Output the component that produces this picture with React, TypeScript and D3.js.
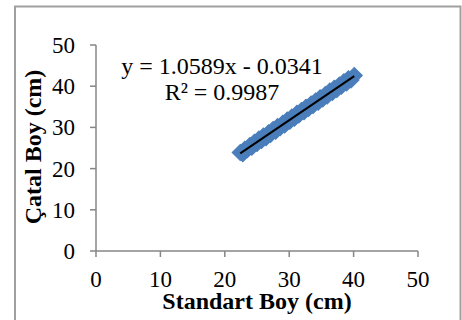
import React from "react";
import * as d3 from "d3";

const standartBoy: number[] = [22.4, 22.8, 23.1, 23.5, 23.9, 24.2, 24.6, 25.0, 25.3, 25.7, 26.0, 26.4, 26.8, 27.1, 27.5, 27.9, 28.2, 28.6, 29.0, 29.3, 29.7, 30.1, 30.4, 30.8, 31.2, 31.5, 31.9, 32.3, 32.6, 33.0, 33.4, 33.7, 34.1, 34.5, 34.8, 35.2, 35.6, 35.9, 36.3, 36.7, 37.0, 37.4, 37.8, 38.1, 38.5, 38.9, 39.2, 39.6, 40.1];
const catalBoy: number[] = [23.9, 23.6, 24.7, 24.6, 25.6, 25.2, 26.4, 26.1, 27.2, 26.8, 27.9, 27.5, 28.7, 28.3, 29.5, 29.1, 30.2, 29.9, 31.0, 30.6, 31.8, 31.5, 32.5, 32.2, 33.4, 33.0, 34.1, 33.8, 34.9, 34.6, 35.7, 35.3, 36.4, 36.1, 37.2, 36.9, 38.0, 37.6, 38.8, 38.5, 39.5, 39.2, 40.3, 40.0, 41.1, 40.8, 41.8, 41.5, 42.6];
const xTicks: number[] = [0, 10, 20, 30, 40, 50];
const yTicks: number[] = [0, 10, 20, 30, 40, 50];
const slope = 1.0589;
const intercept = -0.0341;
const equationLabel = "y = 1.0589x - 0.0341";
const r2Label = "R² = 0.9987";
const xTitle = "Standart Boy (cm)";
const yTitle = "Çatal Boy (cm)";

export default function App() {
  const W = 462, H = 320;
  const x = d3.scaleLinear().domain([0, 50]).range([96, 418]);
  const y = d3.scaleLinear().domain([0, 50]).range([251, 45]);
  const axisColor = "#868686";
  const font = "'Liberation Serif', 'Times New Roman', serif";
  const sym = d3.symbol().type(d3.symbolSquare).size(130)();
  const xMin = d3.min(standartBoy) as number;
  const xMax = d3.max(standartBoy) as number;
  const points = standartBoy.map((v, i) => [v, catalBoy[i]]);
  return (
    <svg width={W} height={H} style={{ position: "absolute", left: 0, top: 0, background: "#fff" }}>
      <rect x={15} y={6.5} width={445.5} height={320} fill="#fff" stroke="#a0a0a0" strokeWidth={2} />
      <line x1={x(0)} x2={x(0)} y1={y(50)} y2={y(0)} stroke={axisColor} strokeWidth={1.5} />
      <line x1={x(0)} x2={x(50)} y1={y(0)} y2={y(0)} stroke={axisColor} strokeWidth={1.5} />
      {yTicks.map((t) => (
        <g key={"y" + t}>
          <line x1={x(0) - 6} x2={x(0)} y1={y(t)} y2={y(t)} stroke={axisColor} strokeWidth={1.5} />
          <text x={75} y={y(t) + 8} textAnchor="end" fontFamily={font} fontSize={23} fill="#000">{t}</text>
        </g>
      ))}
      {xTicks.map((t) => (
        <g key={"x" + t}>
          <line x1={x(t)} x2={x(t)} y1={y(0)} y2={y(0) + 6} stroke={axisColor} strokeWidth={1.5} />
          <text x={x(t)} y={287} textAnchor="middle" fontFamily={font} fontSize={23} fill="#000">{t}</text>
        </g>
      ))}
      {points.map(([a, b], i) => (
        <path key={i} d={sym} transform={`translate(${x(a)},${y(b)}) rotate(45)`} fill="#4A7EBB" stroke="#4A7EBB" strokeWidth={1} />
      ))}
      <line x1={x(xMin)} y1={y(slope * xMin + intercept)} x2={x(xMax)} y2={y(slope * xMax + intercept)} stroke="#000" strokeWidth={2} />
      <text x={222} y={74} textAnchor="middle" fontFamily={font} fontSize={24} fill="#000">{equationLabel}</text>
      <text x={222} y={100} textAnchor="middle" fontFamily={font} fontSize={24} fill="#000">{r2Label}</text>
      <text x={257} y={309} textAnchor="middle" fontFamily={font} fontSize={24} fontWeight="bold" fill="#000">{xTitle}</text>
      <text transform={`translate(41,147) rotate(-90)`} textAnchor="middle" fontFamily={font} fontSize={24} fontWeight="bold" fill="#000">{yTitle}</text>
    </svg>
  );
}
